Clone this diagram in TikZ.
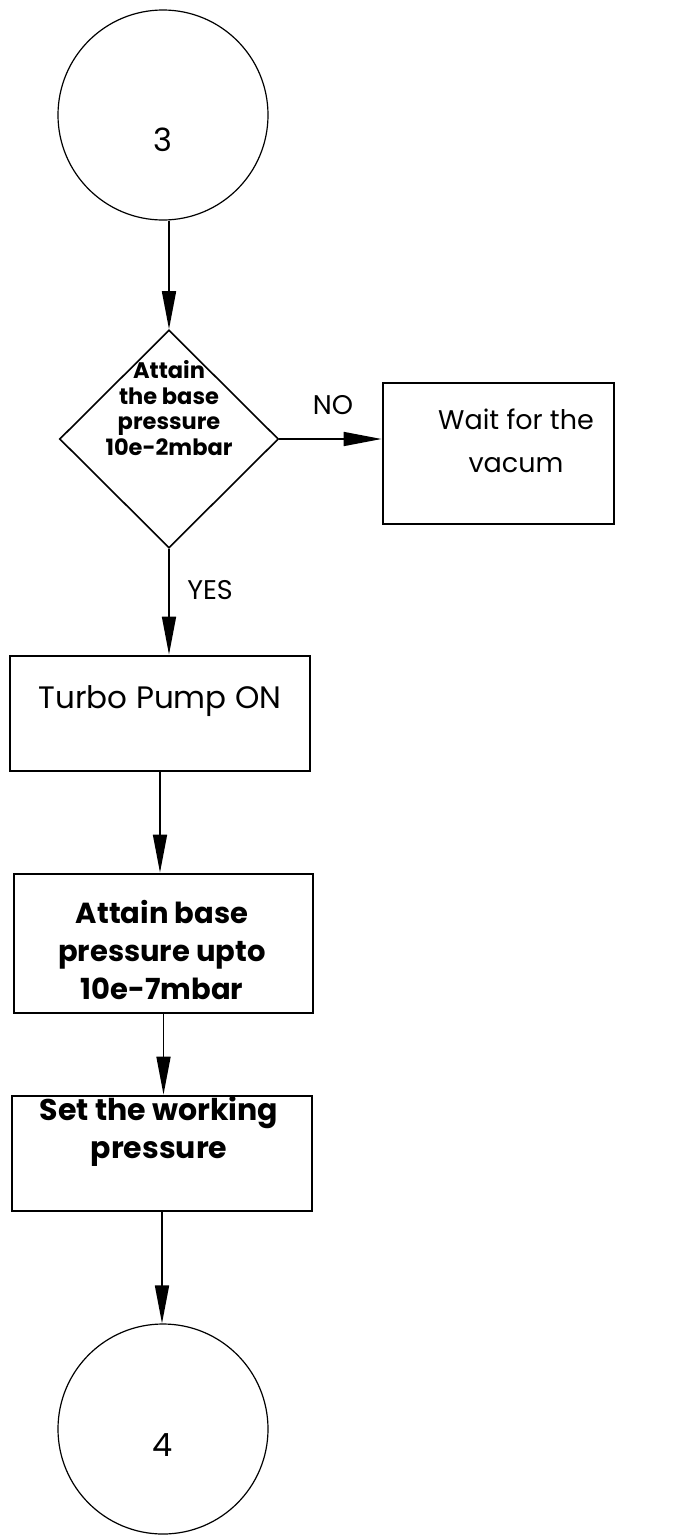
\documentclass[tikz,border=0pt]{standalone}
\usepackage{fontspec}
\setmainfont{Poppins}
\usetikzlibrary{arrows.meta,shapes.geometric}
\begin{document}
\begin{tikzpicture}[x=1pt,y=-1pt,
  conn/.style={line width=1.7pt,-{Triangle[length=38pt,width=14pt]}},
  conncircle/.style={draw,circle,line width=1.2pt,minimum size=210pt,inner sep=0pt},
  box/.style={draw,rectangle,line width=2.8pt,inner sep=0pt},
  dia/.style={draw,diamond,line width=1.6pt,inner sep=0pt},
  numtxt/.style={font=\fontsize{32}{34}\selectfont},
  boxtxt/.style={align=center,font=\fontsize{31}{38}\selectfont},
  boldtxt/.style={align=center,font=\fontsize{29}{38}\selectfont\bfseries},
  diatxt/.style={align=center,font=\fontsize{22.5}{25.7}\selectfont\bfseries},
  lbl/.style={font=\fontsize{27}{30}\selectfont}]
\useasboundingbox (0,0) rectangle (684,1539);
% connector circle 3
\node[conncircle] (c3) at (163,115) {};
\node[numtxt] (n3) at (163,140) {3};
% decision diamond
\node[dia,minimum width=219pt,minimum height=218pt] (d) at (169,439) {};
\node[diatxt] (dt) at (169,408) {Attain\\the base\\pressure\\10e-2mbar};
% wait box
\node[box,minimum width=231pt,minimum height=141pt] (w) at (498.5,453.5) {};
\node[boxtxt,font=\fontsize{27}{43}\selectfont] (wt) at (516,441) {Wait for the\\vacum};
% turbo box
\node[box,minimum width=300pt,minimum height=115pt] (t) at (160,713.5) {};
\node[boxtxt] (tt) at (160,701) {Turbo Pump ON};
% attain box
\node[box,minimum width=299pt,minimum height=139pt] (a) at (163.5,943.5) {};
\node[boldtxt] (at) at (162,950) {Attain base\\pressure upto\\10e-7mbar};
% set box
\node[box,minimum width=300pt,minimum height=115pt] (s) at (162,1153.5) {};
\node[boldtxt,font=\fontsize{30}{38}\selectfont\bfseries] (st) at (159,1131.5) {Set the working\\pressure};
% connector circle 4
\node[conncircle] (c4) at (163,1429) {};
\node[numtxt] (n4) at (163,1445) {4};
% labels
\node[lbl] (no) at (333,405) {NO};
\node[lbl] (yes) at (210,590) {YES};
% connectors
\draw[conn] (c3.south -| d.north) -- (d.north);
\draw[conn] (d.east) -- (d.east -| w.west);
\draw[conn] (d.south) -- (d.south |- t.north);
\draw[conn] (t.south) -- (t.south |- a.north);
\draw[conn] (a.south) -- (a.south |- s.north);
\draw[conn] (s.south) -- (s.south |- c4.north);
\end{tikzpicture}
\end{document}
